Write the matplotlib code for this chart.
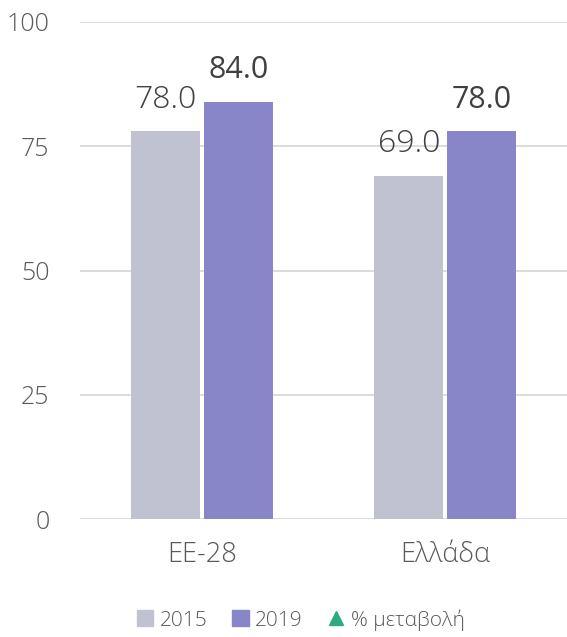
import matplotlib.pyplot as plt
from matplotlib.patches import Patch
from matplotlib.lines import Line2D
import numpy as np

categories = ['ΕΕ-28', 'Ελλάδα']
values_2015 = [78.0, 69.0]
values_2019 = [84.0, 78.0]
yticks = [0, 25, 50, 75, 100]

c2015 = '#C0C2D2'
c2019 = '#8985C9'
ctri = '#2EAA7E'
grey = '#595959'
dark = '#404040'

plt.rcParams['font.family'] = ['Open Sans', 'DejaVu Sans']

fig = plt.figure(figsize=(5.67, 6.37), dpi=100)
ax = fig.add_axes([0.141, 0.1852, 0.859, 0.7803])

x = np.arange(len(categories))
w = 0.283
off = 0.15
ax.bar(x - off, values_2015, w, color=c2015, zorder=2)
ax.bar(x + off, values_2019, w, color=c2019, zorder=2)

# data labels
for xi, v in zip(x - off, values_2015):
    ax.annotate('{:.1f}'.format(v), (xi, v), xytext=(0, 17), textcoords='offset points',
                ha='center', va='baseline', fontsize=23, fontweight='light', color=dark)
for xi, v in zip(x + off, values_2019):
    ax.annotate('{:.1f}'.format(v), (xi, v), xytext=(0, 17), textcoords='offset points',
                ha='center', va='baseline', fontsize=22, fontweight='medium', color=dark)

ax.set_xlim(-0.5, 1.5)
ax.set_ylim(0, 100)
ax.set_yticks(yticks)
ax.set_yticklabels([str(t) for t in yticks], fontsize=18, fontweight='light', color=grey)
ax.set_xticks(x)
ax.set_xticklabels(categories, fontsize=19.5, fontweight='light', color=grey)
ax.tick_params(axis='both', length=0)
ax.tick_params(axis='y', pad=22)
ax.tick_params(axis='x', pad=16)
ax.grid(axis='y', color='#D9D9D9', lw=1.3, zorder=0)
for s in ax.spines.values():
    s.set_visible(False)

# legend
handles = [
    Patch(color=c2015, label='2015'),
    Patch(color=c2019, label='2019'),
    Line2D([], [], marker='^', color=ctri, ls='none', markersize=10, label='% μεταβολή'),
]
fig.legend(handles=handles, loc='center', bbox_to_anchor=(0.53, 0.027), ncol=3, frameon=False,
           labelcolor=grey, handlelength=0.8, handleheight=0.8,
           handletextpad=0.3, columnspacing=1.2, prop={'weight': 'light', 'size': 15})

fig.savefig('out.png', dpi=100)
